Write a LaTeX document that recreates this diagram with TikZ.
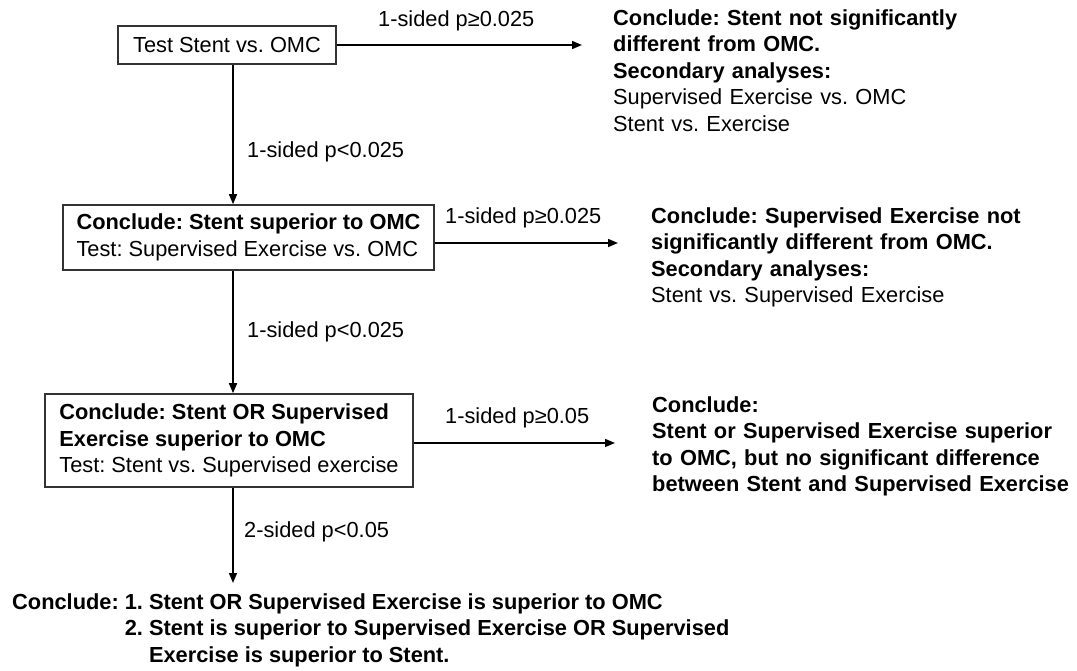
\documentclass[tikz,border=0pt]{standalone}
\usepackage{fontspec}
\setmainfont{Liberation Sans}
\usetikzlibrary{arrows.meta}
\frenchspacing
\begin{document}
\begin{tikzpicture}[x=1pt,y=-1pt,
  every node/.style={font=\fontsize{21.8}{26.6}\selectfont\frenchspacing, inner sep=0pt},
  box/.style={draw=black!80, line width=1.6pt, align=left},
  arr/.style={line width=1.6pt, -{Triangle[length=10pt,width=8pt]}},
  lbl/.style={anchor=base west},
  res/.style={anchor=base west, text width=430pt, align=left}
]
\useasboundingbox (0,0) rectangle (1077,670);

% boxes
\node[box, minimum width=218pt, minimum height=38pt] (b1) at (227,45) {Test Stent vs. OMC};
\node[box, minimum width=371pt, minimum height=65pt] (b2) at (248.5,237.5)
  {\textbf{Conclude: Stent superior to OMC}\\Test: Supervised Exercise vs. OMC};
\node[box, minimum width=368pt, minimum height=93pt] (b3) at (229,440.5)
  {\textbf{Conclude: Stent OR Supervised}\\\textbf{Exercise superior to OMC}\\Test: Stent vs. Supervised exercise};

% results
\node[res] (r1) at (613,25) {\textbf{Conclude: Stent not significantly}\\\textbf{different from OMC.}\\\textbf{Secondary analyses:}\\Supervised Exercise vs. OMC\\Stent vs. Exercise};
\node[res] (r2) at (651,223) {\textbf{Conclude: Supervised Exercise not}\\\textbf{significantly different from OMC.}\\\textbf{Secondary analyses:}\\Stent vs. Supervised Exercise};
\node[res] (r3) at (652,412) {\textbf{Conclude:}\\\textbf{Stent or Supervised Exercise superior}\\\textbf{to OMC, but no significant difference}\\\textbf{between Stent and Supervised Exercise}};

\node[anchor=base west, font={\fontsize{21.8}{26.6}\selectfont\bfseries\frenchspacing}] (c4) at (12,609)
  {\begin{tabular}[t]{@{}l@{\ }l@{\ }l@{}}
   Conclude: & 1. & Stent OR Supervised Exercise is superior to OMC\\
             & 2. & Stent is superior to Supervised Exercise OR Supervised\\
             &    & Exercise is superior to Stent.
   \end{tabular}};

% coordinates
\coordinate (vx) at (233,0);
\coordinate (e1) at (582,45);
\coordinate (e2) at (618,243);
\coordinate (e3) at (615,443);
\coordinate (e4) at (233,583);

% connectors
\draw[arr] (b1.east) -- (e1);
\draw[arr] (b1.south -| vx) -- (b2.north -| vx);
\draw[arr] (b2.east |- e2) -- (e2);
\draw[arr] (b2.south -| vx) -- (b3.north -| vx);
\draw[arr] (b3.east |- e3) -- (e3);
\draw[arr] (b3.south -| vx) -- (e4);

% labels
\node[lbl] (l1) at (378,26) {1-sided p≥0.025};
\node[lbl] (l2) at (247,157) {1-sided p<0.025};
\node[lbl] (l3) at (445,223) {1-sided p≥0.025};
\node[lbl] (l4) at (247,337) {1-sided p<0.025};
\node[lbl] (l5) at (445,423) {1-sided p≥0.05};
\node[lbl] (l6) at (244,537) {2-sided p<0.05};
\end{tikzpicture}
\end{document}
